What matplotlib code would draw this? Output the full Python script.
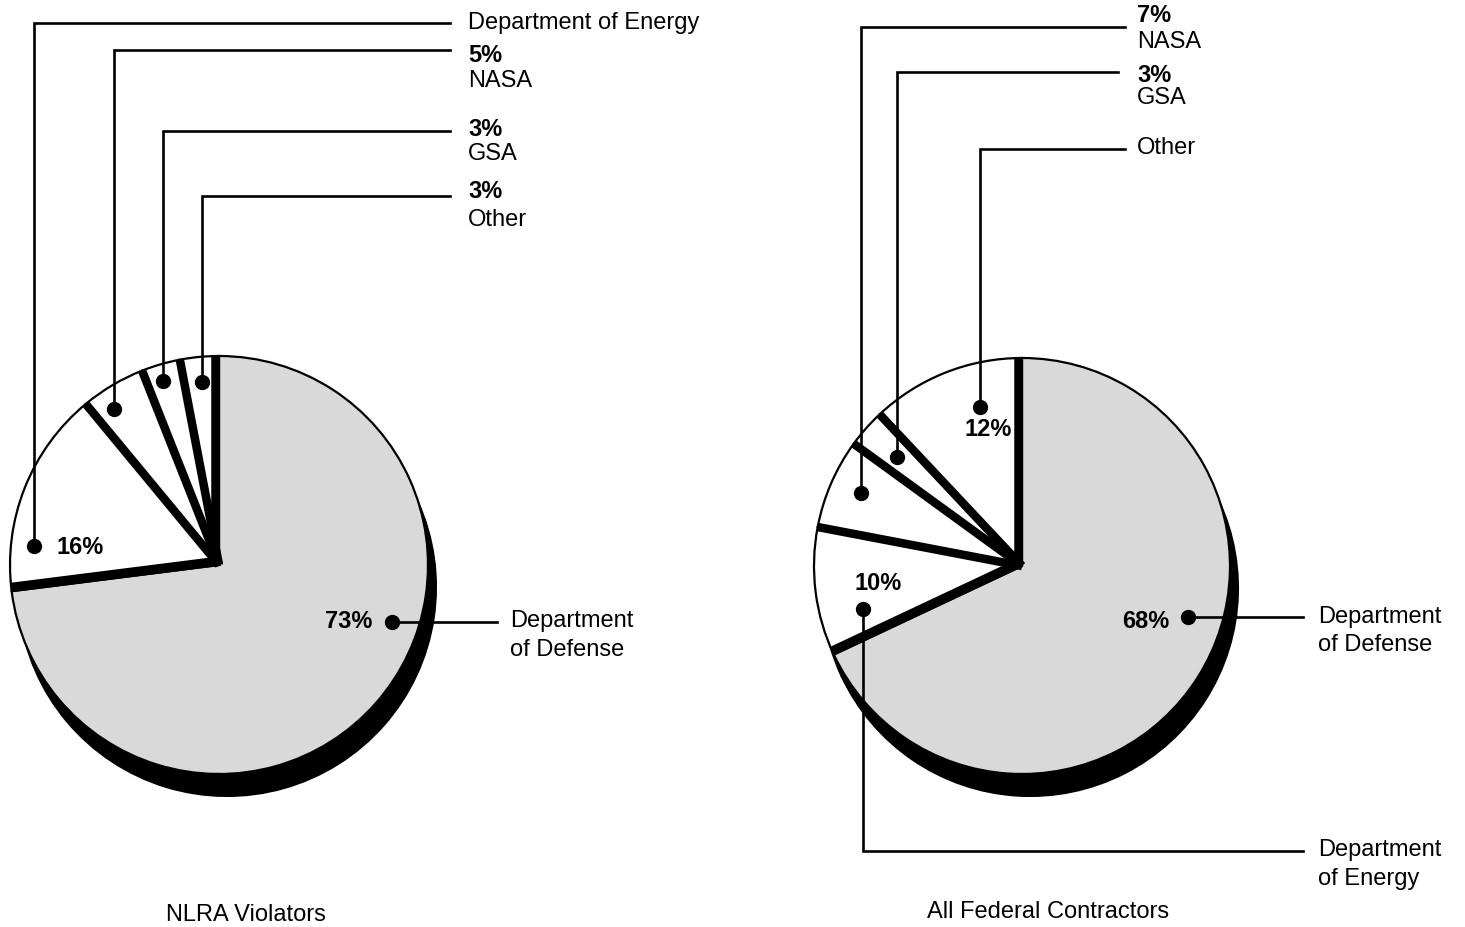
import numpy as np
import matplotlib
matplotlib.use('Agg')
import matplotlib.pyplot as plt

plt.rcParams['font.family'] = ['Liberation Sans', 'DejaVu Sans']

W, H = 1465, 928

# data
agencies = ['Department of Defense', 'Department of Energy', 'NASA', 'GSA', 'Other']
share_nlra = [73, 16, 5, 3, 3]
share_all = [68, 10, 7, 3, 12]
titles = ['NLRA Violators', 'All Federal Contractors']
slice_colors = ['#d9d9d9', 'white', 'white', 'white', 'white']

FS = 17
SHADOW = (8, 22)          # px right, px down
SEP_PX = 8.5              # width of the black separators between slices


def fy(y):
	# measured in pixels from the top, axes are y-up
	return H - y


def draw_pie(ax, values, cx, cy, r):
	ax.pie(values, startangle=90, counterclock=False, radius=r,
		   center=(cx + SHADOW[0], fy(cy) - SHADOW[1]),
		   colors=['black'] * len(values),
		   wedgeprops=dict(edgecolor='black', linewidth=1.5, zorder=1))
	ax.pie(values, startangle=90, counterclock=False, radius=r,
		   center=(cx, fy(cy)), colors=slice_colors,
		   wedgeprops=dict(edgecolor='black', linewidth=1.6, zorder=2))
	edges = 90 - 360.0 * np.concatenate([[0], np.cumsum(values)]) / sum(values)
	for i, e in enumerate(edges[:-1]):
		a = np.deg2rad(e)
		# push the band off the grey slice onto the white side
		if i == 0:
			side = np.deg2rad(e + 90)
		elif i == 1:
			side = np.deg2rad(e - 90)
		else:
			side = None
		ox = oy = 0.0
		if side is not None:
			ox = SEP_PX / 2 * np.cos(side)
			oy = SEP_PX / 2 * np.sin(side)
		x0, y0 = cx + ox, fy(cy) + oy
		ax.plot([x0, x0 + r * np.cos(a)], [y0, y0 + r * np.sin(a)],
				color='black', lw=SEP_PX * 0.72, solid_capstyle='butt', zorder=3)


def leader(ax, cx, cy, r, ang, rf, path):
	# dot placed inside the slice, then a polyline out to the label
	a = np.deg2rad(ang)
	x0 = cx + r * rf * np.cos(a)
	y0 = fy(cy) + r * rf * np.sin(a)
	xs = [x0]
	ys = [y0]
	for kind, v in path:
		if kind == 'v':
			xs.append(xs[-1]); ys.append(fy(v))
		else:
			xs.append(v); ys.append(ys[-1])
	ax.plot(xs, ys, color='black', lw=1.9, zorder=4, solid_joinstyle='miter')
	ax.plot([x0], [y0], 'o', color='black', ms=10, zorder=5)


def label(ax, x, y, s, bold=False, ha='left'):
	ax.text(x, fy(y), s, fontsize=FS, ha=ha, va='center',
			fontweight='bold' if bold else 'normal', zorder=6)


fig = plt.figure(figsize=(W / 100, H / 100), dpi=100)
ax = fig.add_axes([0, 0, 1, 1])

# ---- left pie: NLRA violators
cx, cy, r = 219, 566, 209
draw_pie(ax, share_nlra, cx, cy, r)
leader(ax, cx, cy, r, 174, 0.89, [('v', 24), ('h', 450)])
leader(ax, cx, cy, r, 124, 0.90, [('v', 51), ('h', 450)])
leader(ax, cx, cy, r, 107, 0.92, [('v', 132), ('h', 450)])
leader(ax, cx, cy, r, 95.3, 0.88, [('v', 197), ('h', 450)])
leader(ax, cx, cy, r, -18.2, 0.87, [('h', 497)])

label(ax, 468, 23, agencies[1])
label(ax, 468, 56, '%d%%' % share_nlra[2], bold=True)
label(ax, 468, 81, agencies[2])
label(ax, 468, 130, '%d%%' % share_nlra[3], bold=True)
label(ax, 468, 154, agencies[3])
label(ax, 468, 191, '%d%%' % share_nlra[4], bold=True)
label(ax, 468, 220, agencies[4])
label(ax, 57, 547, '%d%%' % share_nlra[1], bold=True)
label(ax, 372, 622, '%d%%' % share_nlra[0], bold=True, ha='right')
label(ax, 510, 621, 'Department')
label(ax, 510, 650, 'of Defense')
label(ax, 246, 915, titles[0], ha='center')

# ---- right pie: all federal contractors
cx, cy, r = 1022, 567, 208
draw_pie(ax, share_all, cx, cy, r)
leader(ax, cx, cy, r, 155.5, 0.85, [('v', 28), ('h', 1125)])
leader(ax, cx, cy, r, 138.9, 0.80, [('v', 73), ('h', 1118)])
leader(ax, cx, cy, r, 104.8, 0.79, [('v', 150), ('h', 1125)])
leader(ax, cx, cy, r, 195.2, 0.79, [('v', 852), ('h', 1303)])
leader(ax, cx, cy, r, -17.1, 0.835, [('h', 1303)])

label(ax, 1137, 16, '%d%%' % share_all[2], bold=True)
label(ax, 1137, 42, agencies[2])
label(ax, 1137, 75, '%d%%' % share_all[3], bold=True)
label(ax, 1137, 98, agencies[3])
label(ax, 1137, 148, agencies[4])
label(ax, 988, 430, '%d%%' % share_all[4], bold=True, ha='center')
label(ax, 878, 584, '%d%%' % share_all[1], bold=True, ha='center')
label(ax, 1169, 621, '%d%%' % share_all[0], bold=True, ha='right')
label(ax, 1318, 617, 'Department')
label(ax, 1318, 645, 'of Defense')
label(ax, 1318, 850, 'Department')
label(ax, 1318, 879, 'of Energy')
label(ax, 1048, 912, titles[1], ha='center')

ax.set_xlim(0, W)
ax.set_ylim(0, H)
ax.set_aspect('equal')
ax.axis('off')

fig.savefig('out.png', dpi=100, facecolor='white')
